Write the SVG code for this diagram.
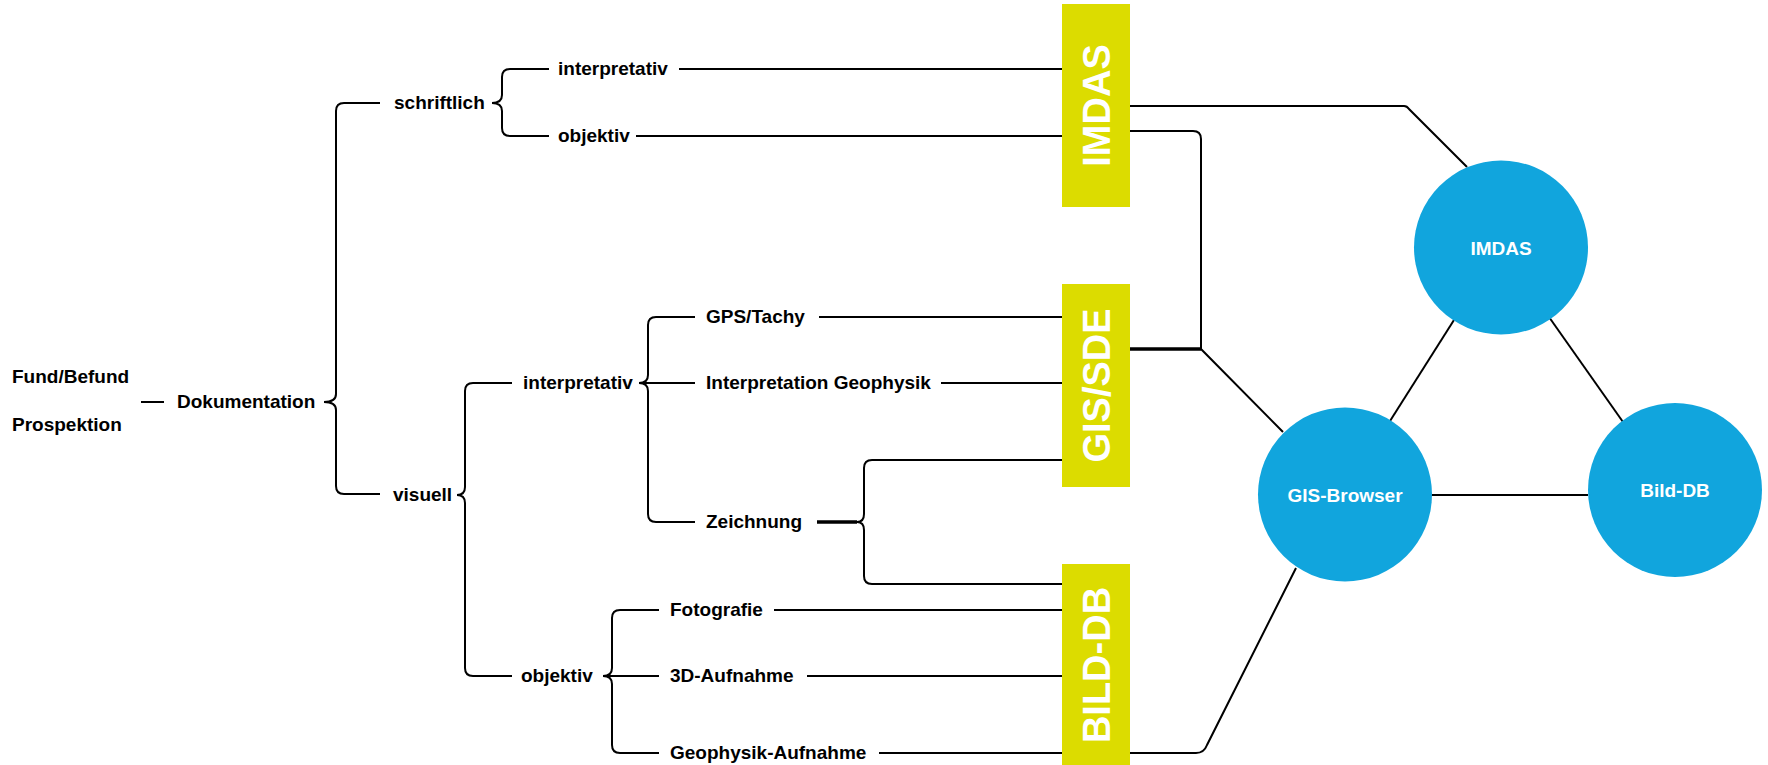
<svg xmlns="http://www.w3.org/2000/svg" width="1768" height="765" viewBox="0 0 1768 765">
<defs>
<style>
.t{font-family:"Liberation Sans",Arial,sans-serif;font-weight:bold;font-size:19px;fill:#000}
.bx{fill:#DCDC00}
.bt{font-family:"Liberation Sans",Arial,sans-serif;font-weight:bold;font-size:38px;fill:#fff;text-anchor:middle}
.c{fill:#11A5DD}
.ct{font-family:"Liberation Sans",Arial,sans-serif;font-weight:bold;font-size:19px;fill:#fff;text-anchor:middle}
.ln{fill:none;stroke:#000;stroke-width:2}
.thk{fill:none;stroke:#000;stroke-width:3.5}
</style>
</defs>
<rect width="1768" height="765" fill="#fff"/>
<g id="connectors">
<path class="ln" d="M141,402 H164"/>
<path class="ln" d="M380,103 H344 Q336,103 336,111 V394 Q336,402 324,402 Q336,402 336,410 V486 Q336,494 344,494 H380"/>
<path class="ln" d="M549,69 H510 Q502,69 502,77 V95 Q502,103 492,103 Q502,103 502,111 V128 Q502,136 510,136 H549"/>
<path class="ln" d="M679,69 H1062"/>
<path class="ln" d="M636,136 H1062"/>
<path class="ln" d="M512,383 H473 Q465,383 465,391 V487 Q465,495 457,495 Q465,495 465,503 V668 Q465,676 473,676 H512"/>
<path class="ln" d="M695,317 H656 Q648,317 648,325 V375 Q648,383 639,383 Q648,383 648,391 V514 Q648,522 656,522 H695 M639,383 H695"/>
<path class="ln" d="M819,317 H1062"/>
<path class="ln" d="M941,383 H1062"/>
<path class="thk" d="M817,522 H857"/>
<path class="ln" d="M1062,460 H872 Q864,460 864,468 V514 Q864,522 857,522 Q864,522 864,530 V576 Q864,584 872,584 H1062"/>
<path class="ln" d="M659,610 H620 Q612,610 612,618 V668 Q612,676 603,676 Q612,676 612,684 V745 Q612,753 620,753 H659 M603,676 H659"/>
<path class="ln" d="M774,610 H1062"/>
<path class="ln" d="M807,676 H1062"/>
<path class="ln" d="M879,753 H1062"/>
<path class="ln" d="M1130,106 H1404 Q1407,106 1409,109 L1467,167"/>
<path class="ln" d="M1130,131 H1193 Q1201,131 1201,139 V349 L1283,432"/>
<path class="thk" d="M1130,349 H1201"/>
<path class="ln" d="M1390,421 L1454,320"/>
<path class="ln" d="M1549,317 L1623,422"/>
<path class="ln" d="M1431,495 H1588"/>
<path class="ln" d="M1130,753 H1196 Q1204,753 1207,745 L1296,568"/>
</g>
<g id="labels">
<text class="t" x="12" y="383">Fund/Befund</text>
<text class="t" x="12" y="431">Prospektion</text>
<text class="t" x="177" y="408">Dokumentation</text>
<text class="t" x="394" y="109">schriftlich</text>
<text class="t" x="558" y="75">interpretativ</text>
<text class="t" x="558" y="142">objektiv</text>
<text class="t" x="393" y="501">visuell</text>
<text class="t" x="523" y="389">interpretativ</text>
<text class="t" x="706" y="323">GPS/Tachy</text>
<text class="t" x="706" y="389">Interpretation Geophysik</text>
<text class="t" x="706" y="528">Zeichnung</text>
<text class="t" x="521" y="682">objektiv</text>
<text class="t" x="670" y="616">Fotografie</text>
<text class="t" x="670" y="682">3D-Aufnahme</text>
<text class="t" x="670" y="759">Geophysik-Aufnahme</text>
</g>
<g id="box-imdas">
<rect class="bx" x="1062" y="4" width="68" height="203"/>
<text class="bt" transform="translate(1110,105.5) rotate(-90)">IMDAS</text>
</g>
<g id="box-gissde">
<rect class="bx" x="1062" y="284" width="68" height="203"/>
<text class="bt" transform="translate(1110,385.5) rotate(-90)">GIS/SDE</text>
</g>
<g id="box-bilddb">
<rect class="bx" x="1062" y="564" width="68" height="203"/>
<text class="bt" transform="translate(1110,665) rotate(-90)">BILD-DB</text>
</g>
<g id="circle-imdas">
<circle class="c" cx="1501" cy="247.5" r="87"/>
<text class="ct" x="1501" y="254.5">IMDAS</text>
</g>
<g id="circle-gisbrowser">
<circle class="c" cx="1345" cy="494.5" r="87"/>
<text class="ct" x="1345" y="501.5">GIS-Browser</text>
</g>
<g id="circle-bilddb">
<circle class="c" cx="1675" cy="490" r="87"/>
<text class="ct" x="1675" y="497">Bild-DB</text>
</g>
</svg>
